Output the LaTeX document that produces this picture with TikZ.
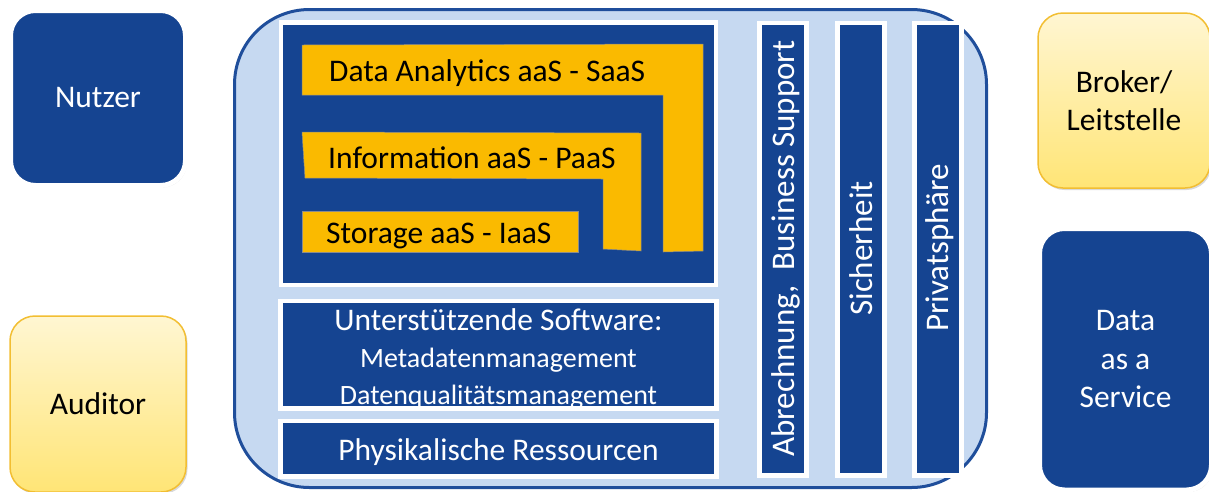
\documentclass[tikz,border=0pt]{standalone}
\usepackage{fontspec}
\setmainfont{Carlito}
\usetikzlibrary{shadows}

\definecolor{dblue}{RGB}{21,68,145}
\definecolor{lblue}{RGB}{198,217,241}
\definecolor{rimblue}{RGB}{31,78,155}
\definecolor{layeryellow}{RGB}{250,186,0}
\definecolor{paleyellow}{RGB}{255,246,210}
\definecolor{deepyellow}{RGB}{255,229,118}
\definecolor{rimyellow}{RGB}{242,190,50}

\tikzset{
  bigtext/.style={font=\fontsize{31.5}{38.5}\selectfont},
  smalltext/.style={font=\fontsize{28}{34}\selectfont},
  sidetext/.style={font=\fontsize{33}{40}\selectfont, text=white, rotate=90, anchor=base, inner sep=0pt},
  shadowed/.style={drop shadow={shadow xshift=1.5pt, shadow yshift=-2pt, opacity=0.3}},
  rolebox/.style={bigtext, rounded corners=25pt, align=center, inner sep=0pt, shadowed},
  bluerole/.style={rolebox, fill=dblue, draw=white, line width=5pt, text=white},
  yellowrole/.style={rolebox, top color=paleyellow, bottom color=deepyellow, draw=rimyellow, line width=1.5pt, text=black},
  panel/.style={fill=dblue, draw=white, line width=4.5pt, shadowed},
  layer/.style={fill=layeryellow, draw=black!45, line width=0.5pt},
  layertext/.style={bigtext, text=black, anchor=base west, inner sep=0pt},
  paneltext/.style={text=white, anchor=base, inner sep=0pt}
}

\begin{document}
\begin{tikzpicture}[x=1pt,y=-1pt]
\useasboundingbox (0,0) rectangle (1209,491);

% roles around the platform
\node[bluerole, minimum width=175pt, minimum height=175pt] (nutzer) at (98,98) {Nutzer};
\node[yellowrole, minimum width=176pt, minimum height=176pt] (auditor) at (98,404) {Auditor};
\node[yellowrole, minimum width=172pt, minimum height=175pt] (broker) at (1124,100.5) {Broker/\\Leitstelle};
\node[bluerole, minimum width=172pt, minimum height=261.5pt] (daas) at (1125.5,359.25) {Data\\as a\\Service};

% platform
\draw[fill=lblue, draw=rimblue, line width=3pt, rounded corners=75pt] (234.5,9.5) rectangle (986.5,487.5);

\draw[panel] (281,22.5) rectangle (716,285);
\draw[panel] (280.5,301) rectangle (716.5,408.5);
\draw[panel] (280.5,421) rectangle (716.5,476.5);

\draw[layer] (302,45) -- (703,44) -- (703,251) -- (663,252) -- (663,95) -- (302,95) -- cycle;
\draw[layer] (302,132) -- (641,133) -- (641,251) -- (603,249) -- (603,179) -- (305,178) -- cycle;
\draw[layer] (302,211) rectangle (578,252);

\node[layertext] (saas) at (329,81) {Data Analytics aaS - SaaS};
\node[layertext] (paas) at (328,168) {Information aaS - PaaS};
\node[layertext] (iaas) at (326,243) {Storage aaS - IaaS};

\node[paneltext, bigtext] (software) at (498.5,330) {Unterstützende Software:};
\node[paneltext, smalltext] (meta) at (498.5,367) {Metadatenmanagement};
\node[paneltext, smalltext] (quali) at (498.5,404) {Datenqualitätsmanagement};
\node[paneltext, bigtext] (phys) at (498.5,460) {Physikalische Ressourcen};

% vertical bars
\foreach \cx in {783,861,938}
  \draw[panel] (\cx-23.5,23) rectangle (\cx+23.5,475.5);

\node[sidetext] (billing) at (794,248.5) {Abrechnung,\ \ Business Support};
\node[sidetext] (security) at (872,248.5) {Sicherheit};
\node[sidetext] (privacy) at (948,248) {Privatsphäre};
\end{tikzpicture}
\end{document}
